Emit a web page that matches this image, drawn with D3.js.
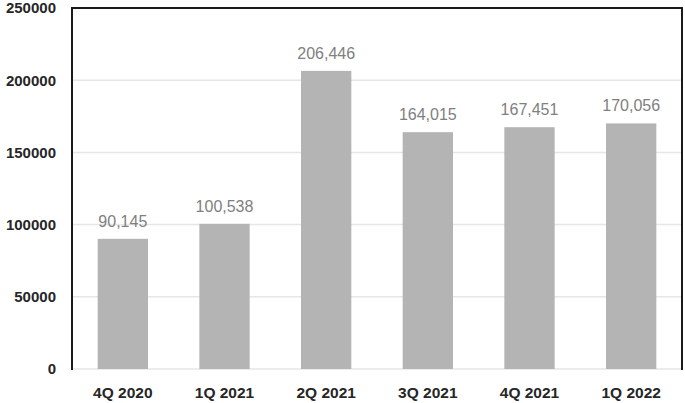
<!DOCTYPE html>
<html><head><meta charset="utf-8">
<script src="https://cdn.jsdelivr.net/npm/d3@7"></script>
<style>body{margin:0;background:#fff;} svg{display:block;}</style>
</head><body>
<svg id="chart" width="685" height="403"></svg>
<script>
const categories = ["4Q 2020","1Q 2021","2Q 2021","3Q 2021","4Q 2021","1Q 2022"];
const values = [90145, 100538, 206446, 164015, 167451, 170056];
const yTicks = [0, 50000, 100000, 150000, 200000, 250000];

const svg = d3.select("#chart");
const L = 72, R = 682, T = 8, B = 369;
const x = d3.scaleBand().domain(categories).range([L, R]).paddingInner(0.505).paddingOuter(0.2525);
const y = d3.scaleLinear().domain([0, 250000]).range([B, T]);

// gridlines
svg.append("g").selectAll("line").data(yTicks.filter(d => d > 0 && d < 250000)).join("line")
  .attr("x1", L).attr("x2", R).attr("y1", d => y(d)).attr("y2", d => y(d))
  .attr("stroke", "#e6e6e6").attr("stroke-width", 1.5);
svg.append("line").attr("x1", L).attr("x2", R).attr("y1", B).attr("y2", B)
  .attr("stroke", "#e6e6e6").attr("stroke-width", 1.5);

// bars
svg.append("g").selectAll("rect").data(values).join("rect")
  .attr("x", (d, i) => x(categories[i])).attr("width", x.bandwidth())
  .attr("y", d => y(d)).attr("height", d => B - y(d))
  .attr("fill", "#b4b4b4");

// value labels
svg.append("g").selectAll("text").data(values).join("text")
  .attr("x", (d, i) => x(categories[i]) + x.bandwidth() / 2)
  .attr("y", d => y(d) - 12)
  .attr("text-anchor", "middle")
  .attr("font-family", "Liberation Sans, Arial, sans-serif").attr("font-size", 16)
  .attr("fill", "#808080")
  .text(d => d3.format(",")(d));

// frame: top, left, right
svg.append("path").attr("d", `M${L},${B + 1}V${T}H${R}V${B + 1}`)
  .attr("fill", "none").attr("stroke", "#1a1a1a").attr("stroke-width", 2);

// y axis
const yAxis = d3.axisLeft(y).tickValues(yTicks).tickSize(0).tickPadding(16).tickFormat(d3.format("d"));
const gy = svg.append("g").attr("transform", `translate(${L},0)`).call(yAxis);
gy.select(".domain").remove();
gy.selectAll("text").attr("font-family", "Liberation Sans, Arial, sans-serif")
  .attr("font-size", 15).attr("font-weight", "bold").attr("fill", "#262626");

// x axis
const xAxis = d3.axisBottom(x).tickSize(0).tickPadding(18);
const gx = svg.append("g").attr("transform", `translate(0,${B})`).call(xAxis);
gx.select(".domain").remove();
gx.selectAll("text").attr("font-family", "Liberation Sans, Arial, sans-serif")
  .attr("font-size", 15.5).attr("font-weight", "bold").attr("fill", "#262626");
</script>
</body></html>
